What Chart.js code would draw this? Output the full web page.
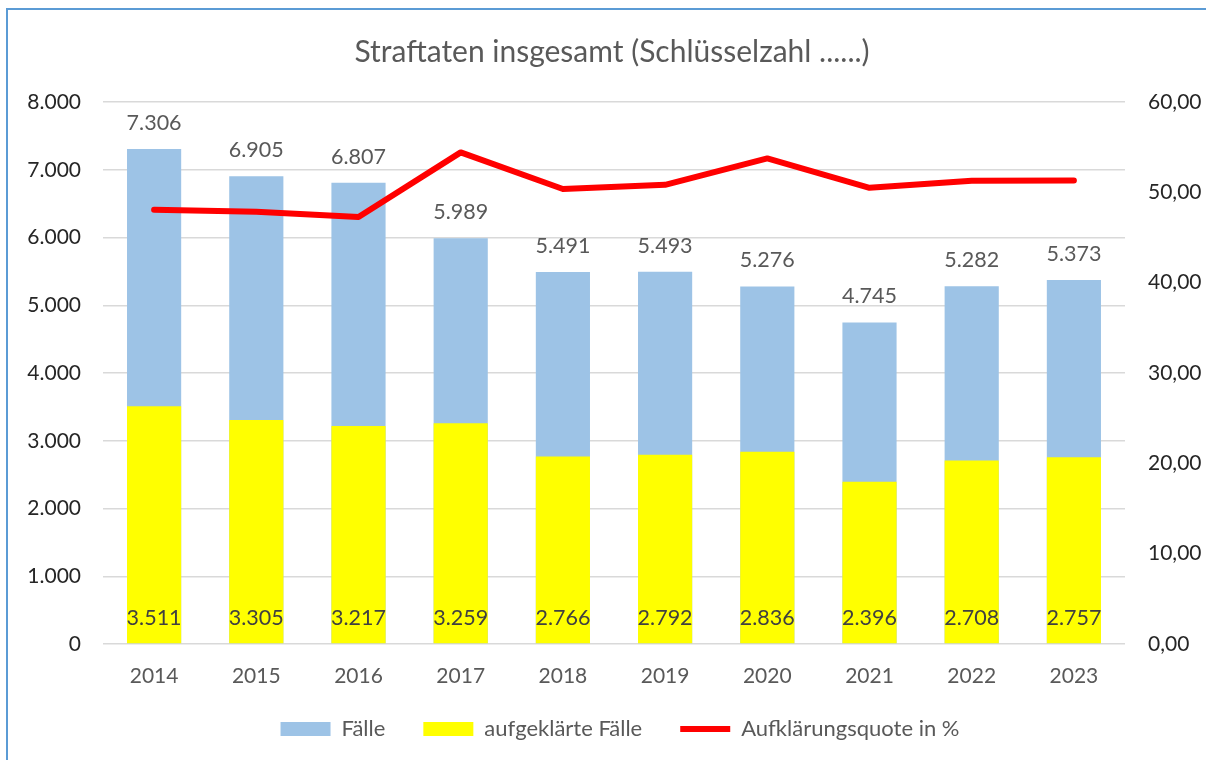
<!DOCTYPE html>
<html>
<head>
<meta charset="utf-8">
<script src="https://cdn.jsdelivr.net/npm/chart.js@4"></script>
<style>
  html, body { margin: 0; padding: 0; background: #fff; overflow: hidden; }
  #wrap { position: relative; width: 1206px; height: 760px; }
  #frame { position: absolute; left: 6px; top: 8px; width: 1300px; height: 900px;
           border-left: 2px solid #5b9bd5; border-top: 2px solid #5b9bd5; }
  #chart { position: absolute; left: 0; top: 0; }
</style>
</head>
<body>
<div id="wrap">
  <div id="frame"></div>
  <canvas id="chart" width="1206" height="760"></canvas>
</div>
<script>
const years = ['2014', '2015', '2016', '2017', '2018', '2019', '2020', '2021', '2022', '2023'];
const faelle = [7306, 6905, 6807, 5989, 5491, 5493, 5276, 4745, 5282, 5373];
const aufgeklaert = [3511, 3305, 3217, 3259, 2766, 2792, 2836, 2396, 2708, 2757];
const quote = [48.06, 47.86, 47.26, 54.42, 50.37, 50.83, 53.75, 50.50, 51.27, 51.31];

const FONT = 'Lato';
const GRAY = '#595959';

function fmtThousands(n) {
  return String(Math.round(n)).replace(/\B(?=(\d{3})+(?!\d))/g, '.');
}

function fmtPercent(n) {
  return n.toFixed(2).replace('.', ',');
}

// value labels: totals above the blue bars, solved cases at the bottom of the yellow bars
const valueLabels = {
  id: 'valueLabels',
  afterDatasetsDraw(chart) {
    const ctx = chart.ctx;
    const yScale = chart.scales.y;
    ctx.save();
    ctx.font = '21.5px ' + FONT;
    ctx.textAlign = 'center';
    ctx.textBaseline = 'middle';

    chart.getDatasetMeta(0).data.forEach((bar, i) => {
      ctx.fillStyle = GRAY;
      ctx.fillText(fmtThousands(faelle[i]), bar.x, bar.y - 26);
    });
    chart.getDatasetMeta(1).data.forEach((bar, i) => {
      ctx.fillStyle = '#404040';
      ctx.fillText(fmtThousands(aufgeklaert[i]), bar.x, yScale.getPixelForValue(0) - 26);
    });
    ctx.restore();
  }
};

// nudge legend and title a little, like the original
const boxShift = {
  id: 'boxShift',
  afterLayout(chart) {
    chart.legend.left += 17;
    chart.legend.right += 17;
    chart.legend.top -= 10;
    chart.legend.bottom -= 10;
    chart.titleBlock.left += 9;
    chart.titleBlock.right += 9;
  }
};

const chart = new Chart('chart', {
  type: 'bar',
  data: {
    labels: years,
    datasets: [{
      label: 'Fälle',
      data: faelle,
      backgroundColor: '#9dc3e6',
      borderWidth: 0,
      pointStyle: 'rect',
      order: 2,
      yAxisID: 'y'
    }, {
      label: 'aufgeklärte Fälle',
      data: aufgeklaert,
      backgroundColor: '#ffff00',
      borderWidth: 0,
      pointStyle: 'rect',
      order: 1,
      yAxisID: 'y'
    }, {
      type: 'line',
      label: 'Aufklärungsquote in %',
      data: quote,
      borderColor: '#ff0000',
      backgroundColor: '#ff0000',
      borderWidth: 6,
      borderCapStyle: 'round',
      borderJoinStyle: 'round',
      pointRadius: 0,
      pointStyle: 'line',
      tension: 0,
      order: 0,
      yAxisID: 'y1'
    }]
  },
  options: {
    responsive: false,
    animation: false,
    layout: { padding: { left: 0, right: 0, top: 0, bottom: 0 } },
    datasets: {
      bar: { categoryPercentage: 1, barPercentage: 0.53 }
    },
    scales: {
      x: {
        stacked: true,
        grid: { display: false, drawTicks: false },
        border: { display: false },
        ticks: { color: GRAY, padding: 20, font: { family: FONT, size: 21 } },
        afterFit(scale) { scale.height = 46; }
      },
      y: {
        position: 'left',
        stacked: false,
        min: 0,
        max: 8000,
        grid: { color: '#d9d9d9', lineWidth: 1.5, drawTicks: false },
        border: { display: false },
        ticks: {
          stepSize: 1000,
          color: '#262626',
          padding: 22,
          font: { family: FONT, size: 21 },
          callback: (v) => fmtThousands(v)
        },
        afterFit(scale) { scale.width = 103; }
      },
      y1: {
        position: 'right',
        min: 0,
        max: 60,
        grid: { drawOnChartArea: false, drawTicks: false },
        border: { display: false },
        ticks: {
          stepSize: 10,
          color: '#262626',
          padding: 23,
          font: { family: FONT, size: 21 },
          callback: (v) => fmtPercent(v)
        },
        afterFit(scale) { scale.width = 81; }
      }
    },
    plugins: {
      title: {
        display: true,
        text: 'Straftaten insgesamt (Schlüsselzahl ......)',
        color: GRAY,
        font: { family: FONT, size: 30, weight: 'normal' },
        padding: { top: 34, bottom: 32 }
      },
      legend: {
        position: 'bottom',
        labels: {
          usePointStyle: true,
          pointStyleWidth: 50,
          boxHeight: 14,
          padding: 38,
          color: GRAY,
          font: { family: FONT, size: 22 },
          sort: (a, b) => a.datasetIndex - b.datasetIndex
        }
      },
      tooltip: { enabled: false }
    }
  },
  plugins: [valueLabels, boxShift]
});
</script>
</body>
</html>
